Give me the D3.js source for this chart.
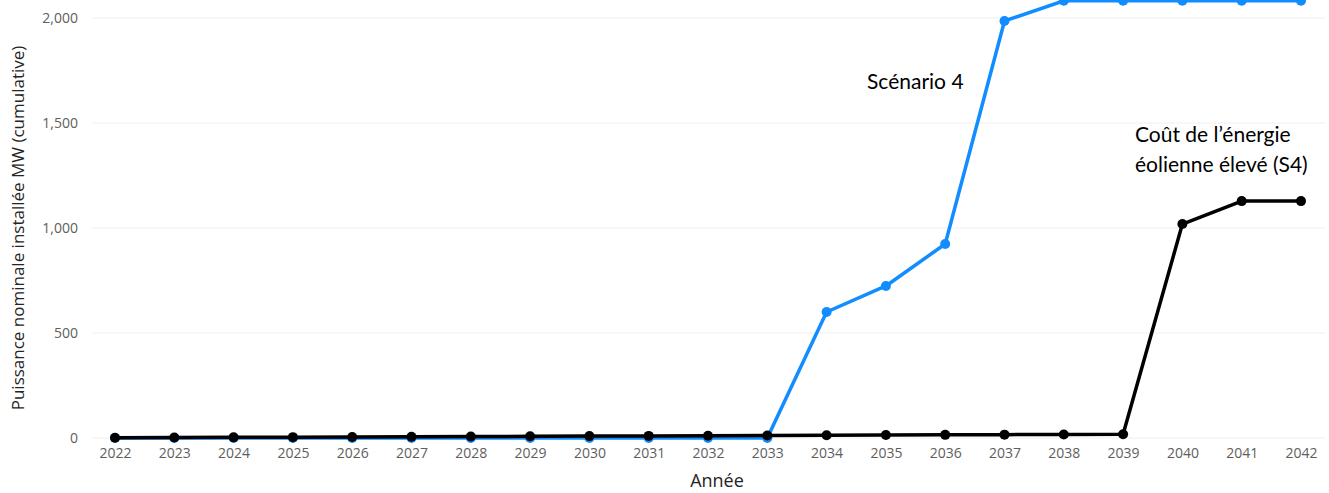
<!DOCTYPE html>
<html>
<head>
<meta charset="utf-8">
<script src="https://cdn.jsdelivr.net/npm/d3@7"></script>
<style>
  html, body { margin: 0; padding: 0; background: #fff; overflow: hidden; }
  svg { display: block; }
</style>
</head>
<body>
<svg id="chart" width="1329" height="493"></svg>
<script>
// Installed wind capacity (MW, cumulative) per year
const years = d3.range(2022, 2043);
const scenario4 = [0, 0, 0, 0, 0, 0, 0, 0, 0, 0, 0, 0, 600, 724, 924, 1986, 2082, 2082, 2082, 2082, 2082];
const highWindCost = [1, 2, 3, 4, 5, 6, 7, 8, 9, 10, 11, 12, 13, 14, 15, 16, 17, 18, 1019, 1128, 1128];
const yTicks = [0, 500, 1000, 1500, 2000];

const svg = d3.select("#chart");
const left = 92, right = 1325;

const x = d3.scalePoint().domain(years).range([115, 1301]);
const y = d3.scaleLinear().domain([0, 2000]).range([438, 18]);

const uiFont = "'Open Sans', 'Noto Sans', sans-serif";

// Horizontal gridlines
svg.append("g")
  .selectAll("line")
  .data(yTicks)
  .join("line")
  .attr("x1", left).attr("x2", right)
  .attr("y1", d => y(d)).attr("y2", d => y(d))
  .attr("stroke", "#efefef").attr("stroke-width", 1);

// Y axis labels
const yAxis = svg.append("g")
  .attr("transform", `translate(${left},0)`)
  .call(d3.axisLeft(y).tickValues(yTicks).tickFormat(d3.format(",")).tickSize(0).tickPadding(14));
yAxis.select(".domain").remove();
yAxis.selectAll("text")
  .attr("fill", "#605e5c").attr("font-size", 14).attr("font-family", uiFont);

// X axis labels
const xAxis = svg.append("g")
  .attr("transform", `translate(0,${y(0)})`)
  .call(d3.axisBottom(x).tickSize(0).tickPadding(10));
xAxis.select(".domain").remove();
xAxis.selectAll("text")
  .attr("fill", "#605e5c").attr("font-size", 14).attr("font-family", uiFont);

// Axis titles
svg.append("text")
  .attr("x", 717).attr("y", 487)
  .attr("text-anchor", "middle")
  .attr("font-size", 18).attr("font-family", uiFont).attr("fill", "#252423")
  .text("Année");

svg.append("text")
  .attr("transform", `translate(24,${228}) rotate(-90)`)
  .attr("text-anchor", "middle")
  .attr("font-size", 17).attr("font-family", uiFont).attr("fill", "#252423")
  .text("Puissance nominale installée MW (cumulative)");

// Series
const series = [
  { values: scenario4, color: "#118dff" },
  { values: highWindCost, color: "#000000" }
];

const line = d3.line()
  .x((d, i) => x(years[i]))
  .y(d => y(d));

series.forEach(s => {
  const g = svg.append("g");
  g.append("path")
    .datum(s.values)
    .attr("d", line)
    .attr("fill", "none")
    .attr("stroke", s.color)
    .attr("stroke-width", 3.5)
    .attr("stroke-linejoin", "round");
  g.selectAll("circle")
    .data(s.values)
    .join("circle")
    .attr("cx", (d, i) => x(years[i]))
    .attr("cy", d => y(d))
    .attr("r", 5)
    .attr("fill", s.color);
});

// Series annotations
const noteFont = "Lato, 'Open Sans', sans-serif";
svg.append("text")
  .attr("x", 867).attr("y", 89)
  .attr("font-size", 21).attr("font-family", noteFont).attr("fill", "#000")
  .text("Scénario 4");

const note2 = svg.append("text")
  .attr("font-size", 21).attr("font-family", noteFont).attr("fill", "#000");
note2.append("tspan").attr("x", 1135).attr("y", 142).text("Coût de l’énergie");
note2.append("tspan").attr("x", 1135).attr("y", 172).text("éolienne élevé (S4)");
</script>
</body>
</html>
